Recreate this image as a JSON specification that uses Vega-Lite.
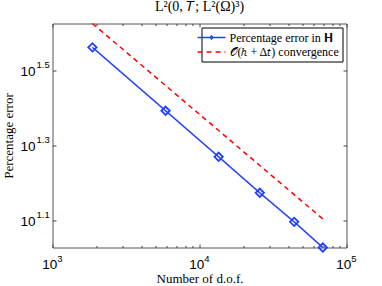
{
  "$schema": "https://vega.github.io/schema/vega-lite/v6.json",
  "autosize": {"type": "none"},
  "width": 294,
  "height": 224,
  "padding": {"left": 52.5, "top": 23.5, "right": 35.5, "bottom": 38.5},
  "background": "#ffffff",
  "title": {"text": "L²(0, 𝑇; L²(Ω)³)", "font": "Liberation Serif", "fontSize": 14, "fontWeight": "normal", "color": "#000000", "offset": 7, "anchor": "middle"},
  "datasets": {
    "pts": [
      {"N": 1868, "err": 36.5, "series": "Percentage error in 𝐇"},
      {"N": 5878, "err": 24.7, "series": "Percentage error in 𝐇"},
      {"N": 13490, "err": 18.6, "series": "Percentage error in 𝐇"},
      {"N": 25700, "err": 14.9, "series": "Percentage error in 𝐇"},
      {"N": 44050, "err": 12.46, "series": "Percentage error in 𝐇"},
      {"N": 69000, "err": 10.64, "series": "Percentage error in 𝐇"},
      {"N": 1868, "err": 42.27, "series": "𝒪(ℎ + Δ𝑡) convergence"},
      {"N": 5878, "err": 28.84, "series": "𝒪(ℎ + Δ𝑡) convergence"},
      {"N": 13490, "err": 21.87, "series": "𝒪(ℎ + Δ𝑡) convergence"},
      {"N": 25700, "err": 17.63, "series": "𝒪(ℎ + Δ𝑡) convergence"},
      {"N": 44050, "err": 14.73, "series": "𝒪(ℎ + Δ𝑡) convergence"},
      {"N": 69000, "err": 12.69, "series": "𝒪(ℎ + Δ𝑡) convergence"}
    ]
  },
  "data": {"name": "pts"},
  "config": {
    "view": {"stroke": "#555555", "strokeWidth": 1},
    "axis": {"domain": false, "grid": false, "tickColor": "#444444", "labelColor": "#000000", "labelFont": "Liberation Sans", "labelFontSize": 13.5, "labelOverlap": false, "labelFlush": false, "labelBound": false, "titleColor": "#000000", "titleFont": "Liberation Serif", "titleFontSize": 13, "titleFontWeight": "normal"},
    "legend": {"labelFont": "Liberation Serif", "labelFontSize": 12, "labelColor": "#000000", "labelLimit": 300}
  },
  "resolve": {"axis": {"x": "independent", "y": "independent"}, "scale": {"x": "shared", "y": "shared"}},
  "layer": [
    {
      "transform": [{"filter": "datum.series == 'Percentage error in 𝐇'"}],
      "mark": {"type": "line", "strokeWidth": 1.5},
      "encoding": {
        "x": {"field": "N", "type": "quantitative",
          "scale": {"type": "log", "domain": [1000, 100000], "nice": false},
          "axis": {"orient": "bottom",
            "values": [1000, 2000, 3000, 4000, 5000, 6000, 7000, 8000, 9000, 10000, 20000, 30000, 40000, 50000, 60000, 70000, 80000, 90000, 100000],
            "labelExpr": "(datum.value == 1000 || datum.value == 10000 || datum.value == 100000) ? '10' : ''",
            "tickSize": {"condition": {"test": "datum.value == 1000 || datum.value == 10000 || datum.value == 100000", "value": -3.5}, "value": -2},
            "labelPadding": 20.5, "labelBaseline": "middle", "labelOffset": -3.3,
            "title": "Number of d.o.f.", "titleX": 147, "titleY": 34.5, "titleBaseline": "alphabetic", "titleAlign": "center"}},
        "y": {"field": "err", "type": "quantitative",
          "scale": {"type": "log", "domain": [10.64, 42.27], "nice": false, "zero": false},
          "axis": {"orient": "left", "values": [12.589254, 19.952623, 31.622777],
            "labelExpr": "'10'", "tickSize": -3.5, "labelPadding": 21, "labelAlign": "right", "labelBaseline": "middle", "labelOffset": 1,
            "title": "Percentage error", "titleAngle": 270, "titleX": -40, "titleY": 112, "titleBaseline": "alphabetic", "titleAlign": "center"}},
        "color": {"field": "series", "type": "nominal",
          "scale": {"domain": ["Percentage error in 𝐇", "𝒪(ℎ + Δ𝑡) convergence"], "range": ["#2040ff", "#ff0000"]},
          "legend": {"title": null, "orient": "top-right", "offset": 4, "strokeColor": "#000000", "fillColor": "#ffffff", "padding": 3, "symbolSize": 144, "symbolStrokeWidth": 1.5, "rowPadding": 1.4, "labelOffset": 11,
            "encode": {"symbols": {"update": {"shape": {"signal": "datum.index == 0 ? 'M-2.33,0H-0.25M0.25,0H2.33M-0.25,0L0,-0.25L0.25,0L0,0.25Z' : 'M-2.33,0H2.33'"}}}}}},
        "strokeDash": {"field": "series", "type": "nominal",
          "scale": {"domain": ["Percentage error in 𝐇", "𝒪(ℎ + Δ𝑡) convergence"], "range": [[1, 0], [5, 4]]},
          "legend": {"title": null}}
      }
    },
    {
      "transform": [{"filter": "datum.series == 'Percentage error in 𝐇'"}],
      "mark": {"type": "point", "shape": "diamond", "filled": false, "color": "#2040ff", "strokeWidth": 1.8, "size": 70, "opacity": 1},
      "encoding": {
        "x": {"field": "N", "type": "quantitative",
          "axis": {"orient": "bottom", "values": [1000, 10000, 100000],
            "labelExpr": "datum.value == 1000 ? '3' : datum.value == 10000 ? '4' : '5'",
            "ticks": false, "tickSize": 0, "labelPadding": 10.5, "labelBaseline": "middle", "labelOffset": 6.8, "labelFontSize": 9.5, "title": null}},
        "y": {"field": "err", "type": "quantitative",
          "axis": {"orient": "left", "values": [12.589254, 19.952623, 31.622777],
            "labelExpr": "datum.value < 15 ? '1.1' : datum.value < 25 ? '1.3' : '1.5'",
            "ticks": false, "tickSize": 0, "labelPadding": 16.5, "labelAlign": "left", "labelBaseline": "middle", "labelOffset": -5.7, "labelFontSize": 9.5, "title": null}}
      }
    },
    {
      "transform": [{"filter": "datum.series != 'Percentage error in 𝐇'"}],
      "mark": {"type": "line", "strokeWidth": 1.5},
      "encoding": {
        "x": {"field": "N", "type": "quantitative",
          "axis": {"orient": "top",
            "values": [1000, 2000, 3000, 4000, 5000, 6000, 7000, 8000, 9000, 10000, 20000, 30000, 40000, 50000, 60000, 70000, 80000, 90000, 100000],
            "labels": false,
            "tickSize": {"condition": {"test": "datum.value == 1000 || datum.value == 10000 || datum.value == 100000", "value": -3.5}, "value": -2},
            "title": null}},
        "y": {"field": "err", "type": "quantitative",
          "axis": {"orient": "right", "values": [12.589254, 19.952623, 31.622777], "labels": false, "tickSize": -3.5, "title": null}},
        "color": {"field": "series", "type": "nominal"},
        "strokeDash": {"field": "series", "type": "nominal"}
      }
    }
  ]
}
